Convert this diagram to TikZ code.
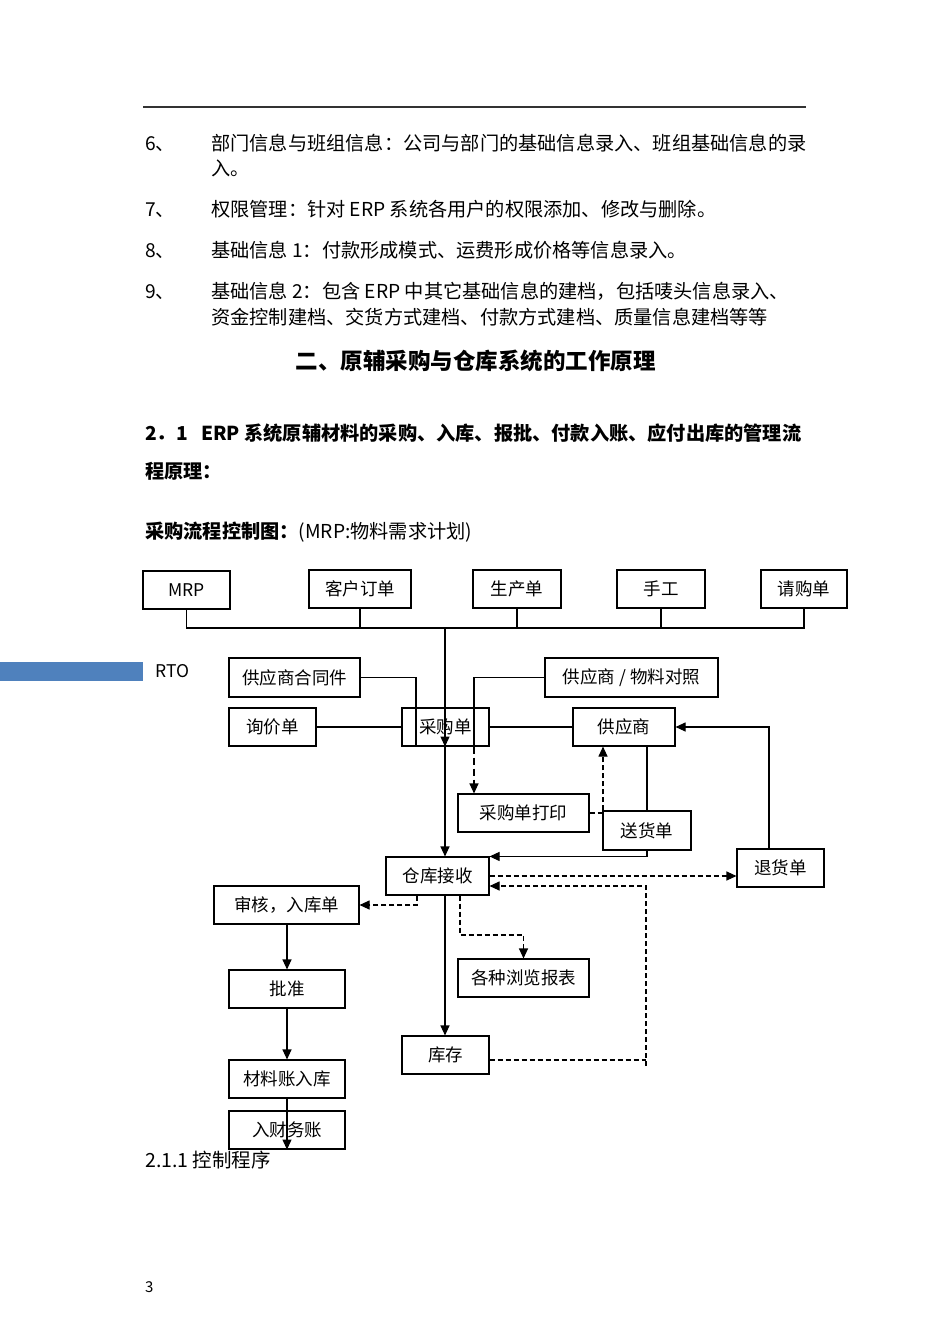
\documentclass[tikz,border=0pt]{standalone}
\usepackage{fontspec}
\setmainfont{Noto Sans CJK SC}
\usetikzlibrary{arrows.meta,calc}
\definecolor{rtoblue}{HTML}{4F81BD}
\begin{document}
\begin{tikzpicture}[x=1pt,y=-1pt,
  box/.style={draw=black,line width=1.1pt,inner sep=0pt,font=\fontsize{17.5}{20}\selectfont},
  ln/.style={line width=1.1pt},
  arr/.style={ln,-{Triangle[length=10pt,width=9pt]}},
  dsh/.style={dash pattern=on 5pt off 3pt},
  body/.style={anchor=base west,inner sep=0pt,font=\fontsize{19.2}{22}\selectfont},
]
\useasboundingbox (0,0) rectangle (950,1344);
% header rule
\draw[line width=1.2pt,black!80] (143,107) -- (806,107);
% list
\node[body] (n6) at (145,150) {6、};
\node[body] (t6a) at (211,150) {部门信息与班组信息：公司与部门的基础信息录入、班组基础信息的录};
\node[body] (t6b) at (211,175) {入。};
\node[body] (n7) at (145,216) {7、};
\node[body] (t7) at (211,216) {权限管理：针对 ERP 系统各用户的权限添加、修改与删除。};
\node[body] (n8) at (145,257) {8、};
\node[body] (t8) at (211,257) {基础信息 1：付款形成模式、运费形成价格等信息录入。};
\node[body] (n9) at (145,298) {9、};
\node[body] (t9a) at (211,298) {基础信息 2：包含 ERP 中其它基础信息的建档，包括唛头信息录入、};
\node[body] (t9b) at (211,324) {资金控制建档、交货方式建档、付款方式建档、质量信息建档等等};
% headings
\node[anchor=base,inner sep=0pt,font=\fontsize{22.5}{26}\selectfont\bfseries] (h2) at (475.5,369.5) {二、原辅采购与仓库系统的工作原理};
\node[body,font=\fontsize{19.2}{22}\selectfont\bfseries] (h21a) at (145,440) {2．1\hspace{0.7em}ERP 系统原辅材料的采购、入库、报批、付款入账、应付出库的管理流};
\node[body,font=\fontsize{19.2}{22}\selectfont\bfseries] (h21b) at (145,478) {程原理：};
\node[body] (cap) at (145,538) {\bfseries 采购流程控制图：\mdseries(MRP:物料需求计划)};
% RTO bar
\fill[rtoblue] (0,662) rectangle (143,681);
\node[anchor=base west,inner sep=0pt,font=\fontsize{17.5}{20}\selectfont] (rto) at (155,677.5) {RTO};
% boxes
\node[box,minimum width=87pt,minimum height=38pt] (mrp) at (186.5,590) {MRP};
\node[box,minimum width=102pt,minimum height=38pt] (kh) at (360,589) {客户订单};
\node[box,minimum width=88pt,minimum height=38pt] (sc) at (517,589) {生产单};
\node[box,minimum width=88pt,minimum height=38pt] (sg) at (661,589) {手工};
\node[box,minimum width=86pt,minimum height=38pt] (qg) at (804,589) {请购单};
\node[box,minimum width=131pt,minimum height=39pt] (ht) at (294.5,677.5) {供应商合同件};
\node[box,minimum width=87pt,minimum height=38pt] (xj) at (272.5,727) {询价单};
\node[box,minimum width=87pt,minimum height=38pt] (cg) at (445.5,727) {采购单};
\node[box,minimum width=173pt,minimum height=39pt] (dz) at (631.5,677.5) {供应商 / 物料对照};
\node[box,minimum width=102pt,minimum height=38pt] (gys) at (624,727) {供应商};
\node[box,minimum width=131pt,minimum height=38pt] (dy) at (523.5,813) {采购单打印};
\node[box,minimum width=88pt,minimum height=39pt] (sh) at (647,830.5) {送货单};
\node[box,minimum width=87pt,minimum height=38pt] (th) at (780.5,868) {退货单};
\node[box,minimum width=103pt,minimum height=38pt] (ck) at (437.5,876) {仓库接收};
\node[box,minimum width=145pt,minimum height=38pt] (rk) at (286.5,905) {审核，入库单\hspace{12pt}};
\node[box,minimum width=116pt,minimum height=38pt] (pz) at (287,989) {批准};
\node[box,minimum width=131pt,minimum height=38pt] (ll) at (523.5,978) {各种浏览报表};
\node[box,minimum width=87pt,minimum height=38pt] (kc) at (445.5,1055) {库存};
\node[box,minimum width=116pt,minimum height=38pt] (cl) at (287,1079) {材料账入库};
\node[box,minimum width=116pt,minimum height=38pt] (cw) at (287,1130) {入财务账};
% helper coordinates
\coordinate (bus) at (0,628);
\coordinate (mx) at (445,0);
\coordinate (hx) at (416,0);
\coordinate (dx) at (474,0);
\coordinate (px) at (603,0);
\coordinate (tx) at (769,0);
\coordinate (lx) at (646,0);
\coordinate (rx) at (417,0);
\coordinate (bx) at (460,0);
% bus
\draw[ln] (mrp.south) -- (mrp.south |- bus) -- (qg.south |- bus) -- (qg.south);
\draw[ln] (kh.south) -- (kh.south |- bus);
\draw[ln] (sc.south) -- (sc.south |- bus);
\draw[ln] (sg.south) -- (sg.south |- bus);
% main vertical
\draw[arr] (mx |- bus) -- (mx |- ck.north);
\draw[arr] (mx |- bus) -- (mx |- cg.south);
% contract
\draw[ln] (ht.east) -| (hx |- cg.south);
\draw[ln] (xj.east) -- (cg.west);
\draw[ln] (dz.west) -| (dx |- cg.south);
\draw[arr,dash pattern=on 7pt off 4pt] (dx |- cg.south) -- (dx |- dy.north);
\draw[ln] (cg.east) -- (gys.west);
\draw[arr,dsh] (dy.east) -| (px |- gys.south);
\draw[ln] (sh.north |- gys.south) -- (sh.north);
\draw[arr] (sh.south) |- (ck.north east);
\draw[arr] (tx |- th.north) |- (gys.east);
\draw[arr,dsh] (ck.east) -- (ck.east -| th.west);
\draw[ln,dsh] (kc.east |- 0,1060) -- (lx |- 0,1060);
\draw[arr,dsh] (lx |- 0,1066) -- (lx |- 0,886) -- (ck.east |- 0,886);
\draw[arr,dsh] (rx |- ck.south) |- (rk.east);
\draw[arr,dsh] (bx |- ck.south) -- (bx |- 0,935) -| (ll.north);
\draw[arr] (mx |- ck.south) -- (mx |- kc.north);
\draw[arr] (rk.south -| pz.north) -- (pz.north);
\draw[arr] (pz.south) -- (cl.north);
\draw[arr] (cl.south) -- (cw.south);
% bottom texts
\node[body,font=\fontsize{19.5}{22}\selectfont] (s211) at (145,1167) {2.1.1 控制程序};
\node[anchor=base west,inner sep=0pt,font=\fontsize{15}{17}\selectfont] (pg) at (145,1292) {3};
\end{tikzpicture}
\end{document}
